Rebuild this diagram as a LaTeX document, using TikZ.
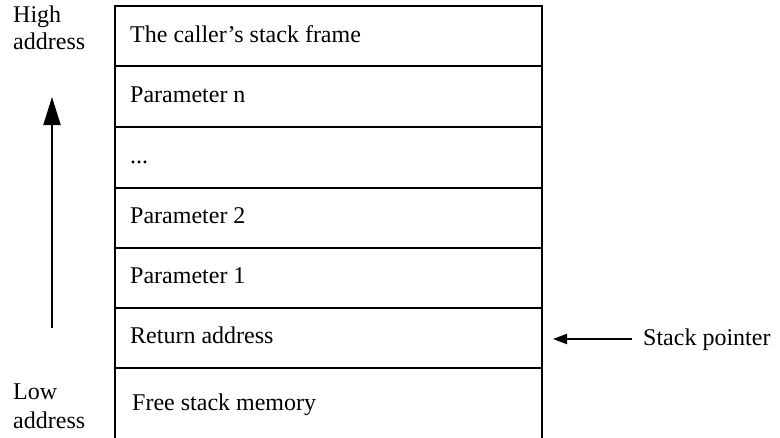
\documentclass[tikz,border=0pt]{standalone}
\usepackage{fontspec}
\setmainfont{Liberation Serif}
\usetikzlibrary{arrows.meta}
\begin{document}
\begin{tikzpicture}[x=1pt,y=-1pt,
  frame/.style={line width=2pt,line cap=rect},
  rowtext/.style={anchor=base west,inner sep=0pt,font=\fontsize{24}{27}\selectfont},
  sidetext/.style={anchor=base west,inner sep=0pt,align=left,font=\fontsize{24}{27}\selectfont},
  bigarrow/.style={line width=2pt,-{Triangle[width=17pt,length=28pt]}},
  smallarrow/.style={line width=2pt,-{Triangle[width=10pt,length=14pt]}}]
\useasboundingbox (0,0) rectangle (780,437);
% frame
\draw[frame] (115,437) -- (115,6) -- (542,6) -- (542,437);
\foreach \y in {66,127,188,248,308,368}
  \draw[frame] (115,\y) -- (542,\y);
% row texts
\node[rowtext] (r1) at (130,42) {The caller’s stack frame};
\node[rowtext] (r2) at (130,102) {Parameter n};
\node[rowtext] (r3) at (130,163) {...};
\node[rowtext] (r4) at (130,223) {Parameter 2};
\node[rowtext] (r5) at (130,283) {Parameter 1};
\node[rowtext] (r6) at (130,343) {Return address};
\node[rowtext] (r7) at (132,410) {Free stack memory};
% side labels
\node[sidetext] (high) at (13,22) {High};
\node[sidetext] (highb) at (13,49) {address};
\node[sidetext] (low) at (13,399) {Low};
\node[sidetext] (lowb) at (13,428) {address};
\node[rowtext] (sp) at (643,345) {Stack pointer};
% arrows
\coordinate (abot) at (52,328);
\coordinate (atop) at (52,97);
\draw[bigarrow] (abot) -- (atop);
\coordinate (spstart) at (632,339);
\coordinate (sptip) at (553,339);
\draw[smallarrow] (spstart) -- (sptip);
\end{tikzpicture}
\end{document}
